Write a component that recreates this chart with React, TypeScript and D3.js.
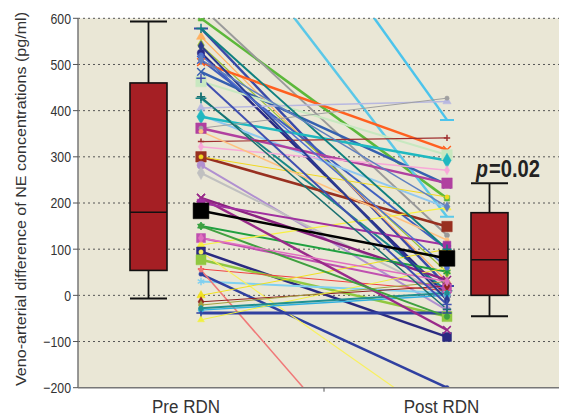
import React from "react";
import * as d3 from "d3";

const categories = ["Pre RDN", "Post RDN"];
const yTicks = [-200, -100, 0, 100, 200, 300, 400, 500, 600];
// box stats: [min, q1, median, q3, max]
const boxPre = [-7, 54, 180, 460, 593];
const boxPost = [-45, 0, 77, 179, 243];
const pLetter = "p";
const pValueLabel = "=0.02";
const yTitle = "Veno-arterial difference of NE concentrations (pg/ml)";

const preValues = [600, 625, 1125, 864, 578, 560, 542, 525, 510, 484, 505, 463, 427, 406, 390, 387, 362, 362, 333, 322, 300, 300, 355, 282, 265, 211, 183, 150, 124, 109, 95, 77, 57, 30, 46, 55, 94, 0, -14, -21, -32, -38, -53, -28, 211, 200, 540, 520, 578, 430, 150, 124, 510, 470];
const postValues = [210, 130, 380, 170, 20, 30, 50, 0, 100, 240, 315, 304, 10, 420, 190, 292, 243, 427, 341, 271, 149, 213, 120, -32, 0, 33, 80, 51, 15, 190, -90, -46, 10, 5, -200, -558, -280, 100, 20, 30, 0, -38, 60, 5, -75, 109, -10, 60, 100, -30, -46, 30, 192, -20];

// styles (separate from data)
const seriesColors = ["#5cb83a", "#9a9a9a", "#4cc4ec", "#5bc8e8", "#3a4aa8", "#ffb060", "#9ac030", "#2a2a88", "#4060c0", "#3560b0", "#ff6020", "#c8e8c0", "#188888", "#b8b8e0", "#90c8f0", "#20b8c0", "#b040a0", "#a0a0a0", "#a03030", "#f8a8d8", "#983020", "#f0d820", "#ffc080", "#b090d0", "#c0c0c0", "#8a2080", "#000000", "#20a040", "#c050b0", "#f8f040", "#2a2a80", "#90c840", "#f04040", "#80d0f0", "#3040a0", "#f07878", "#f8f060", "#f0e020", "#902020", "#a0a040", "#30b0e0", "#3040a0", "#f0f040", "#209090", "#9a2a8a", "#a030a0", "#2a3a90", "#5070d0", "#108080", "#1a7070", "#40a040", "#e070c0", "#6080c0", "#4050b0"];
const seriesWidths = [2.5, 2, 2.5, 2.5, 2.5, 1.2, 1.2, 2.5, 2, 2.5, 2.5, 2, 2, 1.5, 2, 2.5, 2.5, 1, 1.2, 1.5, 2.5, 1, 1.5, 2, 2, 2.5, 2.5, 2, 2, 1.2, 2.5, 2.5, 1, 2, 2.5, 1.5, 1.2, 1, 1, 1, 1.5, 3, 1, 2, 2.5, 2, 2, 1.5, 2, 1.5, 2, 1.5, 1.5, 2];
const seriesShapes = ["square", "circle", "bar", "bar", "bar", "triangle", "diamond", "circle", "times", "times", "times", "square", "plus", "triangle", "circle", "diamond", "square", "circle", "plus", "diamond", "square", "circle", "circle", "circle", "diamond", "times", "square", "star", "square", "triangle", "square", "square", "plus", "star", "circle", "circle", "circle", "triangle", "diamond", "diamond", "diamond", "plus", "triangle", "circle", "times", "square", "diamond", "circle", "plus", "plus", "circle", "diamond", "diamond", "plus"];
const seriesSizes = [30, 20, 30, 30, 30, 35, 40, 45, 40, 40, 40, 110, 40, 30, 20, 60, 110, 15, 15, 25, 110, 15, 15, 50, 50, 45, 250, 45, 80, 30, 80, 100, 15, 40, 15, 15, 15, 30, 30, 25, 30, 30, 20, 20, 40, 60, 30, 20, 30, 25, 25, 25, 30, 30];

const W = 569;
const H = 418;
const left = 78;
const right = 559;
const top = 18.3;
const bottom = 387.7;

const y = d3.scaleLinear().domain([-200, 600]).range([bottom, top]);
const x = d3.scalePoint<string>().domain(categories).range([201, 447]);
const boxCenters = [148.5, 489.5];
const boxW = 37;
const font = "'Liberation Sans', Arial, sans-serif";

const symbolFor = (s: string) => {
  switch (s) {
    case "square": return d3.symbolSquare;
    case "circle": return d3.symbolCircle;
    case "triangle": return d3.symbolTriangle;
    case "diamond": return d3.symbolDiamond;
    case "times": return d3.symbolTimes;
    case "plus": return d3.symbolPlus;
    case "star": return d3.symbolAsterisk;
    case "bar": return d3.symbolPlus;
    default: return d3.symbolCircle;
  }
};
const strokeShapes = new Set(["times", "plus", "star"]);

function Marker({ cx, cy, shape, size, color }: any) {
  if (shape === "bar") {
    return <line x1={cx - 7} x2={cx + 7} y1={cy} y2={cy} stroke={color} strokeWidth={2} />;
  }
  const p = d3.symbol(symbolFor(shape), size)() || "";
  const isStroke = strokeShapes.has(shape);
  return (
    <path
      d={p}
      transform={`translate(${cx},${cy})`}
      fill={isStroke ? "none" : color}
      stroke={color}
      strokeWidth={isStroke ? 1.5 : 0.5}
    />
  );
}

function Box({ cx, stats }: { cx: number; stats: number[] }) {
  const [mn, q1, med, q3, mx] = stats;
  const hw = boxW / 2;
  return (
    <g>
      <line x1={cx} x2={cx} y1={y(mx)} y2={y(q3)} stroke="#111" strokeWidth={1.8} />
      <line x1={cx} x2={cx} y1={y(q1)} y2={y(mn)} stroke="#111" strokeWidth={1.8} />
      <line x1={cx - hw} x2={cx + hw} y1={y(mx)} y2={y(mx)} stroke="#111" strokeWidth={2} />
      <line x1={cx - hw} x2={cx + hw} y1={y(mn)} y2={y(mn)} stroke="#111" strokeWidth={2} />
      <rect x={cx - hw} y={y(q3)} width={boxW} height={y(q1) - y(q3)} fill="#a51f24" stroke="#111" strokeWidth={1.6} />
      <line x1={cx - hw} x2={cx + hw} y1={y(med)} y2={y(med)} stroke="#111" strokeWidth={1.6} />
    </g>
  );
}

export default function App() {
  const xPre = x(categories[0])!;
  const xPost = x(categories[1])!;
  const midTick = (xPre + xPost) / 2;
  const order = preValues.map((_, i) => i).filter((i) => i !== 26).concat([26]);
  const lineGen = d3.line<[number, number]>().x((d) => d[0]).y((d) => d[1]);
  return (
    <svg width={W} height={H} style={{ position: "absolute", left: 0, top: 0, background: "#fff" }}>
      <defs>
        <clipPath id="plotClip">
          <rect x={left} y={top} width={right - left} height={bottom - top} />
        </clipPath>
      </defs>
      <rect x={left} y={top} width={right - left} height={bottom - top} fill="#eae7d6" />
      {yTicks.filter((t) => t > -200).map((t) => (
        <line key={t} x1={left} x2={right} y1={y(t)} y2={y(t)} stroke="#555" strokeWidth={1} strokeDasharray="2,3" />
      ))}
      <g clipPath="url(#plotClip)">
        {order.map((i) => (
          <path
            key={"l" + i}
            d={lineGen([[xPre, y(preValues[i])], [xPost, y(postValues[i])]]) || ""}
            stroke={seriesColors[i]}
            strokeWidth={seriesWidths[i]}
            fill="none"
          />
        ))}
        {order.map((i) => (
          <g key={"m" + i}>
            <Marker cx={xPre} cy={y(preValues[i])} shape={seriesShapes[i]} size={seriesSizes[i]} color={seriesColors[i]} />
            <Marker cx={xPost} cy={y(postValues[i])} shape={seriesShapes[i]} size={seriesSizes[i]} color={seriesColors[i]} />
          </g>
        ))}
      </g>
      <Box cx={boxCenters[0]} stats={boxPre} />
      <Box cx={boxCenters[1]} stats={boxPost} />
      {/* axes */}
      <line x1={left} x2={left} y1={top} y2={bottom} stroke="#777" strokeWidth={1.5} />
      <line x1={left} x2={right} y1={bottom} y2={bottom} stroke="#777" strokeWidth={1.5} />
      {yTicks.map((t) => (
        <g key={"t" + t}>
          <line x1={left - 5} x2={left} y1={y(t)} y2={y(t)} stroke="#555" strokeWidth={1} />
          <text
            transform={`translate(${left - 7},${y(t)}) scale(0.82,1)`}
            dy="0.36em"
            textAnchor="end"
            fontFamily={font}
            fontSize={15}
            fill="#333"
          >
            {t < 0 ? "\u2212" + Math.abs(t) : String(t)}
          </text>
        </g>
      ))}
      <line x1={midTick} x2={midTick} y1={bottom} y2={bottom + 4} stroke="#555" strokeWidth={1} />
      <text transform={`translate(186,413) scale(0.92,1)`} textAnchor="middle" fontFamily={font} fontSize={18.5} fill="#333">{categories[0]}</text>
      <text transform={`translate(441.5,413) scale(0.92,1)`} textAnchor="middle" fontFamily={font} fontSize={18.5} fill="#333">{categories[1]}</text>
      <text
        transform={`translate(26,199) rotate(-90)`}
        textAnchor="middle"
        fontFamily={font}
        fontSize={15.5}
        fill="#333"
        textLength={374}
        lengthAdjust="spacingAndGlyphs"
      >
        {yTitle}
      </text>
      <text transform="translate(476,177) scale(0.85,1)" fontFamily={font} fontSize={23} fontStyle="italic" fontWeight="bold" fill="#222">
        {pLetter}
      </text>
      <text x={489} y={177} fontFamily={font} fontSize={23} fontWeight="bold" fill="#222" textLength={51} lengthAdjust="spacingAndGlyphs">
        {pValueLabel}
      </text>
    </svg>
  );
}
